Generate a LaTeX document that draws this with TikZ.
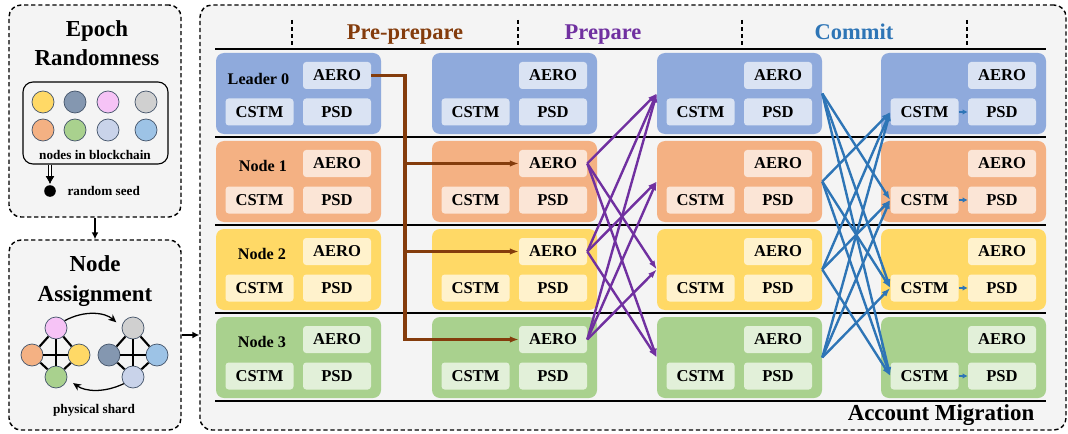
\documentclass[tikz,border=0pt]{standalone}
\usepackage{fontspec}
\setmainfont{Liberation Serif}
\usetikzlibrary{positioning, arrows.meta}

\definecolor{panelgray}{HTML}{F4F4F4}
\definecolor{Dblue}{HTML}{8FAADC}
\definecolor{Lblue}{HTML}{DAE3F3}
\definecolor{Dorange}{HTML}{F4B183}
\definecolor{Lorange}{HTML}{FBE5D6}
\definecolor{Dyellow}{HTML}{FFD966}
\definecolor{Lyellow}{HTML}{FFF2CC}
\definecolor{Dgreen}{HTML}{A9D18E}
\definecolor{Lgreen}{HTML}{E2F0D9}
\definecolor{prebrown}{HTML}{843C0C}
\definecolor{prepurple}{HTML}{7030A0}
\definecolor{comblue}{HTML}{2E75B6}
\definecolor{cslate}{HTML}{8497B0}
\definecolor{cpink}{HTML}{F6C3F6}
\definecolor{cgray}{HTML}{D0D0D0}
\definecolor{clav}{HTML}{C9D3EA}
\definecolor{clblue}{HTML}{9DC3E6}
\definecolor{ringc}{HTML}{44546A}

\tikzset{
  panel/.style={draw, line width=1pt, dash pattern=on 3pt off 2pt, rounded corners=3mm, fill=panelgray},
  title/.style={font=\fontsize{16.3}{21}\selectfont\bfseries, align=center, inner sep=0},
  hdr/.style={font=\fontsize{16}{19}\selectfont\bfseries, inner sep=0, anchor=base},
  blk/.style={rounded corners=2mm, minimum width=41.25mm, minimum height=20.25mm, inner sep=0},
  cell/.style={rounded corners=0.8mm, minimum width=17mm, minimum height=6.75mm, inner sep=0, font=\fontsize{11.8}{14}\selectfont\bfseries},
  lbl/.style={font=\fontsize{11.5}{14}\selectfont\bfseries, inner sep=0},
  small/.style={font=\fontsize{9.4}{11}\selectfont\bfseries, inner sep=0},
  dot/.style={circle, draw=ringc, line width=0.5pt, minimum size=5.5mm, inner sep=0},
  edge/.style={line width=1.5pt},
  sepline/.style={line width=1.1pt},
  blkarrow/.style={line width=1.3pt, -{Latex[length=1.7mm,width=1.7mm]}},
  bendarrow/.style={line width=0.9pt, -{Stealth[length=2mm,width=1.8mm]}, shorten >=1.8mm},
  brline/.style={draw=prebrown, line width=2.2pt, -{Latex[length=2.2mm,width=1.6mm]}},
  ppline/.style={draw=prepurple, line width=1.7pt, -{Latex[length=2.2mm,width=1.6mm]}},
  cmline/.style={draw=comblue, line width=1.7pt, -{Latex[length=2.2mm,width=1.6mm]}},
}

\begin{document}
\begin{tikzpicture}[x=0.25mm, y=-0.25mm]
  \useasboundingbox (0,0) rectangle (1068,434);

  % Epoch randomness panel
  \node[panel, minimum width=43mm, minimum height=53mm] (rand) at (95,111) {};
  \node[title] (randtitle) at (97,43) {Epoch\\Randomness};
  \node[draw, line width=0.8pt, rounded corners=2.5mm, minimum width=36.25mm, minimum height=20.5mm] (chain) at (95.5,123) {};
  \foreach \i/\x/\y/\col in {1/43/102/Dyellow, 2/75/102/cslate, 3/108/102/cpink, 4/146/102/cgray,
                             5/43/130/Dorange, 6/75/130/Dgreen, 7/108/130/clav, 8/146/130/clblue} {
    \node[dot, fill=\col] (n\i) at (\x,\y) {};
  }
  \node[small] (chaintext) at (95,155) {nodes in blockchain};
  \node[circle, fill=black, minimum size=2.9mm, inner sep=0] (seed) at (50,191) {};
  \node[small, right=2.8mm of seed] (seedtext) {random seed};
  \draw[double, double distance=1.3pt, line width=0.6pt, -{Latex[length=2mm,width=2.2mm]}, shorten >=0.5pt] (chain.south -| seed) -- (seed.north);

  % Node assignment panel
  \node[panel, minimum width=43mm, minimum height=47.5mm] (assign) at (95,335) {};
  \node[title] (assigntitle) at (95,281) {Node\\Assignment};
  \foreach \i/\x/\y/\col in {1/56/328/cpink, 2/32/355/Dorange, 3/79/355/Dyellow, 4/56/377/Dgreen,
                             5/133/328/cgray, 6/109/355/cslate, 7/157/355/clblue, 8/133/377/clav} {
    \node[dot, fill=\col] (s\i) at (\x,\y) {};
  }
  \foreach \u/\v in {1/2, 1/3, 2/4, 3/4, 2/3, 1/4, 5/6, 5/7, 6/8, 7/8, 6/7, 5/8} {
    \draw[edge] (s\u) -- (s\v);
  }
  \draw[bendarrow] (s1.40) to[bend left=35] (s5.175);
  \draw[bendarrow] (s8.216) to[bend left=30] (s4.350);
  \node[small] (shardtext) at (94,410) {physical shard};

  \draw[blkarrow] (rand.south) -- (assign.north);

  % Account migration panel
  \node[panel, minimum width=216.5mm, minimum height=106.25mm] (mig) at (633,217.5) {};
  \draw[blkarrow] (assign.east) -- (mig.west |- assign.east);

  \foreach \x in {292,518,742,967} {
    \draw[line width=0.8pt, dash pattern=on 3pt off 2pt] (\x,20) -- (\x,49);
  }
  \foreach \y in {49,137,225,313,401} {
    \draw[sepline] (215,\y) -- (1046,\y);
  }
  \node[hdr, text=prebrown] (hpre) at (405,40) {Pre-prepare};
  \node[hdr, text=prepurple] (hprep) at (603,40) {Prepare};
  \node[hdr, text=comblue] (hcom) at (854,40) {Commit};

  % Blocks for each phase and node
  \foreach \c/\cx in {0/298.5, 1/514.5, 2/739.5, 3/963.5} {
    \foreach \r/\cy/\col in {0/93.5/blue, 1/181.5/orange, 2/269.5/yellow, 3/357.5/green} {
      \node[blk, fill=D\col] (b\c\r) at (\cx,\cy) {};
      \node[cell, fill=L\col] (a\c\r) at (\cx+38.5,\cy-18) {AERO};
      \node[cell, fill=L\col] (c\c\r) at (\cx-39,\cy+18.5) {CSTM};
      \node[cell, fill=L\col] (p\c\r) at (\cx+38.5,\cy+18.5) {PSD};
    }
  }
  \foreach \r/\t/\x/\y in {0/Leader 0/258.5/79, 1/Node 1/263/166, 2/Node 2/262/254, 3/Node 3/262/342} {
    \node[lbl] (l\r) at (\x,\y) {\t};
  }

  % Pre-prepare
  \coordinate (bus) at (405,0);
  \draw[brline] (a00.east) -| (bus |- a13.west) -- (a13.west);
  \draw[brline] (bus |- a11.west) -- (a11.west);
  \draw[brline] (bus |- a12.west) -- (a12.west);

  % Prepare
  \foreach \s in {1,2,3} {
    \foreach \t in {0,1,2,3} {
      \ifnum\s=\t\relax\else
        \draw[ppline] (a1\s.east) -- (b2\t.west);
      \fi
    }
  }

  % Commit
  \foreach \s in {0,1,2,3} {
    \foreach \t in {0,1,2,3} {
      \ifnum\s=\t\relax\else
        \draw[cmline] (b2\s.east) -- (c3\t.west);
      \fi
    }
    \draw[draw=comblue, line width=1.3pt, -{Latex[length=1.3mm,width=1.4mm]}] (c3\s.east) -- (p3\s.west);
  }

  \node[title] (foot) at (941,415) {Account Migration};
\end{tikzpicture}
\end{document}
